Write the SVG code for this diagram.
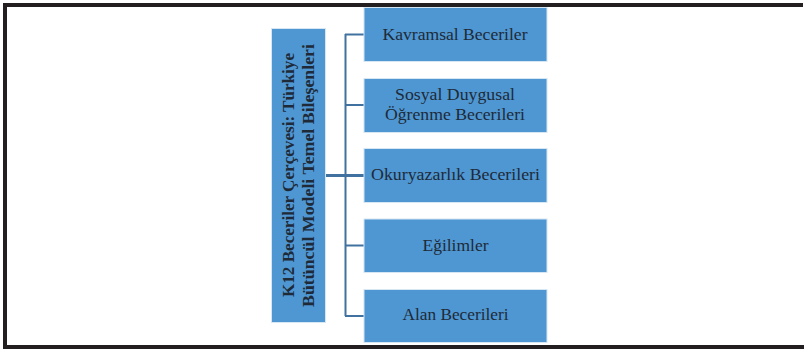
<svg xmlns="http://www.w3.org/2000/svg" width="804" height="349" viewBox="0 0 804 349">
<style>
.box{fill:#4f97d2;stroke:#d6e6f3;stroke-width:1}
.t{font-family:"Liberation Serif","DejaVu Serif",serif;font-size:16.5px;fill:#1e2a38;text-anchor:middle}
.tb{font-family:"Liberation Serif","DejaVu Serif",serif;font-size:16.5px;font-weight:bold;fill:#1e2a38;text-anchor:middle}
.c{stroke:#41729f;fill:none}
</style>
<rect width="804" height="349" fill="#fff"/>
<g id="frame" fill="#231f20">
<rect x="3" y="3" width="800" height="4"/>
<rect x="3" y="3" width="4" height="346"/>
<rect x="3" y="345" width="801" height="4"/>
</g>
<g id="connectors">
<line class="c" x1="345.5" y1="34" x2="345.5" y2="316" stroke-width="2"/>
<line class="c" x1="345" y1="34.5" x2="364" y2="34.5" stroke-width="2"/>
<line class="c" x1="345" y1="105" x2="364" y2="105" stroke-width="2"/>
<line class="c" x1="326" y1="175.5" x2="364" y2="175.5" stroke-width="3"/>
<line class="c" x1="345" y1="245.5" x2="364" y2="245.5" stroke-width="2"/>
<line class="c" x1="345" y1="316" x2="364" y2="316" stroke-width="2"/>
</g>
<g id="root">
<rect class="box" x="271.5" y="28.5" width="54" height="294"/>
<text class="tb" transform="translate(293.5,175) rotate(-90)" textLength="244" lengthAdjust="spacingAndGlyphs">K12 Beceriler Çerçevesi: Türkiye</text>
<text class="tb" transform="translate(313.5,175.5) rotate(-90)" textLength="263" lengthAdjust="spacingAndGlyphs">Bütüncül Modeli Temel Bileşenleri</text>
</g>
<g id="n1">
<rect class="box" x="364" y="7.5" width="183" height="54"/>
<text class="t" x="455" y="39.5" textLength="145" lengthAdjust="spacingAndGlyphs">Kavramsal Beceriler</text>
</g>
<g id="n2">
<rect class="box" x="364" y="78.5" width="183" height="54"/>
<text class="t" x="455" y="100" textLength="120" lengthAdjust="spacingAndGlyphs">Sosyal Duygusal</text>
<text class="t" x="455" y="120" textLength="140" lengthAdjust="spacingAndGlyphs">Öğrenme Becerileri</text>
</g>
<g id="n3">
<rect class="box" x="364" y="148.5" width="183" height="54"/>
<text class="t" x="455.5" y="179.5" textLength="169" lengthAdjust="spacingAndGlyphs">Okuryazarlık Becerileri</text>
</g>
<g id="n4">
<rect class="box" x="364" y="219" width="183" height="53.5"/>
<text class="t" x="455.5" y="250.5" textLength="66" lengthAdjust="spacingAndGlyphs">Eğilimler</text>
</g>
<g id="n5">
<rect class="box" x="364" y="289.5" width="183" height="53"/>
<text class="t" x="455.5" y="320" textLength="106" lengthAdjust="spacingAndGlyphs">Alan Becerileri</text>
</g>
</svg>
